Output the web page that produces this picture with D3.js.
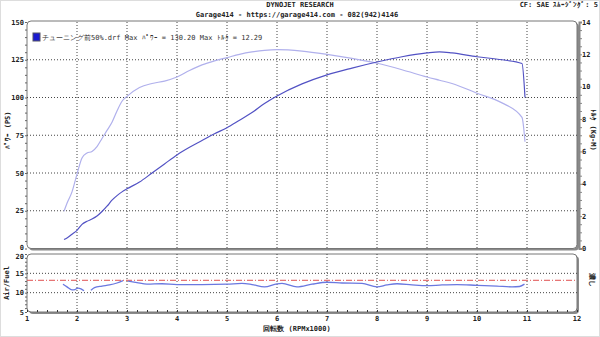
<!DOCTYPE html>
<html>
<head>
<meta charset="utf-8" />
<title>Dynojet chart</title>
<script src="https://cdnjs.cloudflare.com/ajax/libs/d3/7.8.5/d3.min.js"></script>
<style>
	body { margin: 0; background: #fff; }
	svg text { font-family: "DejaVu Sans Mono", monospace; fill: #222; }
	.grid line { stroke: #444; stroke-dasharray: 1,2; stroke-width: 1; }
</style>
</head>
<body>
<svg id="chart" width="600" height="337"></svg>
<script>
// power / torque run, rpm x1000
const rpm = [1.74, 1.8, 1.9, 2.0, 2.1, 2.2, 2.3, 2.4, 2.5, 2.6, 2.7, 2.8, 2.9, 3.0, 3.25, 3.5, 3.75,
	4.0, 4.25, 4.5, 4.75, 5.0, 5.25, 5.5, 5.75, 6.0, 6.5, 7.0, 7.5, 8.0, 8.5, 9.0, 9.25, 9.5, 10.0, 10.5, 10.9, 10.96];
const power = [6, 7, 9.5, 12, 16, 18, 19.5, 21.5, 24.5, 28, 32, 35, 37.5, 39.5, 44, 50, 56,
	62, 67, 71.5, 76, 80, 85, 90, 96, 101, 109, 115, 119.5, 123.5, 127, 129.5, 130.2, 129.5, 127, 125, 122.5, 100];
const torque = [2.3, 2.8, 3.5, 4.6, 5.6, 5.9, 6.0, 6.3, 6.8, 7.3, 7.8, 8.5, 9.1, 9.4, 9.95, 10.2, 10.35,
	10.6, 11.0, 11.35, 11.6, 11.8, 12.0, 12.15, 12.25, 12.29, 12.2, 12.0, 11.75, 11.45, 11.05, 10.6, 10.4, 10.2, 9.6, 9.0, 8.1, 6.6];

// air/fuel run (null = gap in the trace)
const afRpm = [1.72, 1.8, 1.9, 1.96, 2.02, 2.08, 2.14, 2.2, 2.28, 2.35, 2.5, 2.65, 2.8, 2.92, 2.97, 3.02, 3.2, 3.4, 3.7,
	4.0, 4.5, 5.0, 5.3, 5.5, 5.75, 6.0, 6.1, 6.4, 6.7, 7.0, 7.3, 7.7, 8.0, 8.2, 8.4, 8.7, 9.0, 9.3, 9.6, 10.0, 10.4, 10.7, 10.85, 10.95];
const airFuel = [12.2, 11.5, 10.7, 10.8, 11.2, 11.0, 10.5, null, 10.6, 11.3, 11.7, 12.0, 12.5, 13.1, null, 13.0, 12.6, 12.2, 12.3,
	12.1, 12.1, 12.2, 12.4, 12.1, 11.5, 12.3, 12.4, 11.5, 12.2, 12.7, 12.5, 12.4, 11.5, 12.0, 12.3, 12.0, 11.8, 12.0, 12.1, 11.9, 11.7, 11.5, 11.6, 12.2];
const afTarget = 13.2;

const xTicks = [1, 2, 3, 4, 5, 6, 7, 8, 9, 10, 11, 12];
const powerTicks = [0, 25, 50, 75, 100, 125, 150];
const torqueTicks = [0, 2, 4, 6, 8, 10, 12, 14];
const afTicks = [5, 10, 15, 20];

const svg = d3.select("#chart");

const x = d3.scaleLinear().domain([1, 12]).range([27, 577]);
const yP = d3.scaleLinear().domain([0, 150]).range([248.5, 22]);
const yT = d3.scaleLinear().domain([0, 14]).range([248.5, 22]);
const yA = d3.scaleLinear().domain([5, 20]).range([312, 254]);

// outer frame
svg.append("rect").attr("x", 0.5).attr("y", 0.5).attr("width", 599).attr("height", 336)
	.attr("fill", "#fff").attr("stroke", "#ddd");

// panels with shadow
function panel(x0, y0, x1, y1) {
	svg.append("rect").attr("x", x0 + 2).attr("y", y0 + 2).attr("width", x1 - x0).attr("height", y1 - y0)
		.attr("rx", 4).attr("fill", "#8a8a8a");
	svg.append("rect").attr("x", x0).attr("y", y0).attr("width", x1 - x0).attr("height", y1 - y0)
		.attr("rx", 4).attr("fill", "#fff").attr("stroke", "#777");
}
panel(x(1), yP(150) - 1, x(12), yP(0));
panel(x(1), yA(20), x(12), yA(5));

// grid
const g1 = svg.append("g").attr("class", "grid");
g1.selectAll(".v").data(xTicks.slice(1, -1)).enter().append("line")
	.attr("x1", d => x(d)).attr("x2", d => x(d)).attr("y1", yP(150)).attr("y2", yP(0));
g1.selectAll(".h").data(powerTicks.slice(1, -1)).enter().append("line")
	.attr("x1", x(1)).attr("x2", x(12)).attr("y1", d => yP(d)).attr("y2", d => yP(d));
const g2 = svg.append("g").attr("class", "grid");
g2.selectAll(".v").data(xTicks.slice(1, -1)).enter().append("line")
	.attr("x1", d => x(d)).attr("x2", d => x(d)).attr("y1", yA(20)).attr("y2", yA(5));
g2.selectAll(".h").data([10, 15]).enter().append("line")
	.attr("x1", x(1)).attr("x2", x(12)).attr("y1", d => yA(d)).attr("y2", d => yA(d));

// minor ticks
svg.append("g").attr("transform", `translate(${x(1)},0)`)
	.call(d3.axisLeft(yP).tickValues(d3.range(0, 151, 5)).tickSize(2).tickFormat(""))
	.call(g => g.select(".domain").remove())
	.selectAll("line").attr("stroke", "#666");
svg.append("g").attr("transform", `translate(${x(12) + 2},0)`)
	.call(d3.axisRight(yT).tickValues(d3.range(0, 14.01, 0.5)).tickSize(3).tickFormat(""))
	.call(g => g.select(".domain").attr("stroke", "#888").attr("stroke-width", 2))
	.selectAll("line").attr("stroke", "#888");
svg.append("g").attr("transform", `translate(${x(1)},0)`)
	.call(d3.axisLeft(yA).tickValues(d3.range(5, 20.1, 1)).tickSize(2).tickFormat(""))
	.call(g => g.select(".domain").remove())
	.selectAll("line").attr("stroke", "#666");
svg.append("g").attr("transform", `translate(0,${yA(5)})`)
	.call(d3.axisTop(x).tickValues(d3.range(1, 12.01, 0.2)).tickSize(2).tickFormat(""))
	.call(g => g.select(".domain").remove())
	.selectAll("line").attr("stroke", "#333");

// tick labels
const lab = svg.append("g").attr("font-size", 7).attr("font-weight", "bold");
lab.selectAll(".p").data(powerTicks).enter().append("text")
	.attr("x", 24).attr("y", d => yP(d) + (d === 0 ? 1 : 2.5)).attr("text-anchor", "end").text(d => d);
lab.selectAll(".t").data(torqueTicks).enter().append("text")
	.attr("x", 582).attr("y", d => yT(d) + 2.5).text(d => d);
lab.selectAll(".a").data(afTicks).enter().append("text")
	.attr("x", 24).attr("y", d => yA(d) + (d === 20 ? 5 : 2.5)).attr("text-anchor", "end").text(d => d);
lab.selectAll(".x").data(xTicks).enter().append("text")
	.attr("x", d => x(d)).attr("y", 321).attr("text-anchor", "middle").text(d => d);

// titles
const t = svg.append("g").attr("font-size", 7).attr("font-weight", "bold");
t.append("text").attr("x", 300).attr("y", 7).attr("text-anchor", "middle").text("DYNOJET  RESEARCH");
t.append("text").attr("x", 297).attr("y", 16.5).attr("text-anchor", "middle")
	.text("Garage414 - https://garage414.com - 082(942)4146");
t.append("text").attr("x", 598).attr("y", 7).attr("text-anchor", "end").text("CF: SAE  ｽﾑｰｼﾞﾝｸﾞ: 5");
t.append("text").attr("transform", "translate(10,130) rotate(-90)").attr("text-anchor", "middle").text("ﾊﾟﾜｰ (PS)");
t.append("text").attr("transform", "translate(591,130) rotate(90)").attr("text-anchor", "middle").text("ﾄﾙｸ (Kg-M)");
t.append("text").attr("transform", "translate(9,283) rotate(-90)").attr("text-anchor", "middle").text("Air/Fuel");
t.append("text").attr("transform", "translate(590,280) rotate(90)").attr("text-anchor", "middle").text("濃し");
t.append("text").attr("x", 297).attr("y", 331).attr("text-anchor", "middle").text("回転数 (RPMx1000)");

// legend
svg.append("rect").attr("x", 33).attr("y", 33).attr("width", 7).attr("height", 8)
	.attr("fill", "#1a1ad0").attr("stroke", "#556");
svg.append("text").attr("x", 42).attr("y", 40).attr("font-size", 7)
	.attr("font-family", "'Noto Sans CJK JP', sans-serif").style("fill", "#333")
	.text("チューニング前50%.drf  Max ﾊﾟﾜｰ = 130.20   Max ﾄﾙｸ = 12.29");

// curves
const run = rpm.map((r, i) => ({ r: r, p: power[i], t: torque[i] }));
svg.append("path").datum(run)
	.attr("fill", "none").attr("stroke", "#b0b0ec").attr("stroke-width", 1.2)
	.attr("d", d3.line().curve(d3.curveMonotoneX).x(d => x(d.r)).y(d => yT(d.t)));
svg.append("path").datum(run)
	.attr("fill", "none").attr("stroke", "#5252c4").attr("stroke-width", 1.2)
	.attr("d", d3.line().curve(d3.curveMonotoneX).x(d => x(d.r)).y(d => yP(d.p)));

svg.append("line").attr("x1", x(1)).attr("x2", x(12)).attr("y1", yA(afTarget)).attr("y2", yA(afTarget))
	.attr("stroke", "#e05050").attr("stroke-dasharray", "6,2,1,2");
const af = afRpm.map((r, i) => ({ r: r, a: airFuel[i] }));
svg.append("path").datum(af)
	.attr("fill", "none").attr("stroke", "#6a78e0").attr("stroke-width", 1.3)
	.attr("d", d3.line().defined(d => d.a !== null).curve(d3.curveMonotoneX).x(d => x(d.r)).y(d => yA(d.a)));
</script>
</body>
</html>
